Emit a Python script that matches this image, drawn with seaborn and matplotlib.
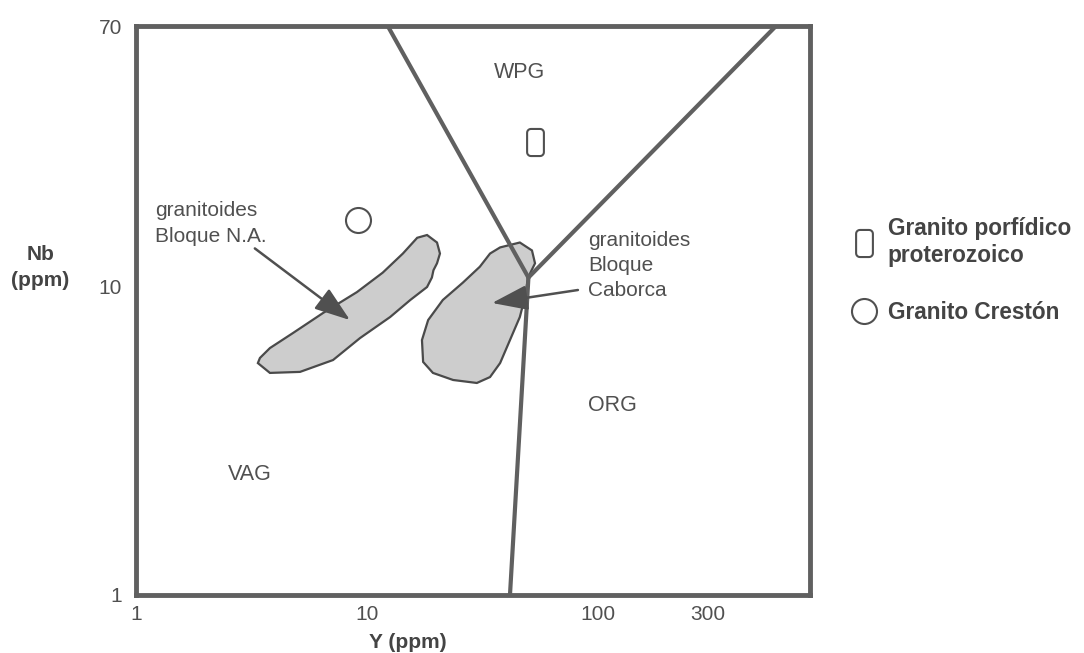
import numpy as np
import matplotlib
matplotlib.use("Agg")
import matplotlib.pyplot as plt
from matplotlib.path import Path
from matplotlib.lines import Line2D
import seaborn as sns

sns.set_style("white")
plt.rcParams["font.family"] = ["Liberation Sans", "DejaVu Sans"]

# ---- data (Y ppm, Nb ppm) ----
x_ticks = [1, 10, 100, 300]
x_tick_labels = ["1", "10", "100", "300"]
y_ticks = [1, 10, 70]
y_tick_labels = ["1", "10", "70"]

# discrimination boundaries (Pearce et al.)
bound_wpg_left_y = [50, 12.3]
bound_wpg_left_nb = [10.7, 70]
bound_wpg_right_y = [50, 590]
bound_wpg_right_nb = [10.7, 70]
bound_org_y = [50, 41.6]
bound_org_nb = [10.7, 1]

# field: granitoides Bloque N.A.
na_y = [3.37, 3.80, 5.13, 7.13, 9.33, 12.6, 15.4, 18.2, 19.1, 19.4, 20.1, 20.7,
        20.1, 18.2, 16.5, 14.3, 11.7, 9.05, 6.45, 4.78, 3.80, 3.44]
na_nb = [5.65, 5.25, 5.29, 5.78, 6.81, 7.97, 9.05, 9.97, 10.7, 11.3, 11.9, 12.8,
         13.9, 14.7, 14.4, 12.8, 11.1, 9.60, 8.21, 7.07, 6.32, 5.87]

# field: granitoides Bloque Caborca
cab_y = [37.7, 45.9, 51.8, 53.4, 49.8, 48.3, 45.9, 41.6, 37.7, 34.1, 29.9, 23.6,
         19.3, 17.5, 17.3, 18.4, 21.3, 26.0, 30.8, 34.1]
cab_nb = [13.4, 13.9, 13.1, 11.9, 10.7, 9.25, 7.97, 6.71, 5.65, 5.09, 4.87, 4.98,
          5.25, 5.70, 6.71, 7.79, 9.05, 10.3, 11.6, 12.8]

# samples
porf_y, porf_nb = [53.4], [29.4]
crest_y, crest_nb = [9.14], [16.4]

# arrows (start -> tip)
arrow_na = ((3.27, 13.3), (8.44, 7.79))
arrow_cab = ((81.9, 9.75), (34.8, 8.85))

GRAY = "#606060"
TXT = "#505050"

def rounded_rect(w=0.62, h=1.0, r=0.14, n=6):
    verts = []
    corners = [(w/2 - r, h/2 - r, 0), (-w/2 + r, h/2 - r, 90),
               (-w/2 + r, -h/2 + r, 180), (w/2 - r, -h/2 + r, 270)]
    for cx, cy, a0 in corners:
        for t in np.linspace(a0, a0 + 90, n):
            verts.append((cx + r*np.cos(np.radians(t)), cy + r*np.sin(np.radians(t))))
    verts.append(verts[0])
    codes = [Path.MOVETO] + [Path.LINETO]*(len(verts) - 2) + [Path.CLOSEPOLY]
    return Path(verts, codes)

rect_marker = rounded_rect()

fig = plt.figure(figsize=(10.84, 6.53), dpi=100)
ax = fig.add_axes([136/1084, 58/653, (810-136)/1084, (595-26)/653])
ax.set_xscale("log")
ax.set_yscale("log")
ax.set_xlim(1, 828)
ax.set_ylim(1, 70)

# fields
ax.fill(na_y, na_nb, facecolor="#cdcdcd", edgecolor="#4a4a4a", lw=1.6, zorder=2)
ax.fill(cab_y, cab_nb, facecolor="#cdcdcd", edgecolor="#4a4a4a", lw=1.6, zorder=2)

# boundaries
for bx, by in [(bound_wpg_left_y, bound_wpg_left_nb),
               (bound_wpg_right_y, bound_wpg_right_nb),
               (bound_org_y, bound_org_nb)]:
    sns.lineplot(x=bx, y=by, ax=ax, sort=False, estimator=None, color=GRAY,
                 lw=3.0, zorder=3, solid_capstyle="round")

# samples
sns.scatterplot(x=porf_y, y=porf_nb, ax=ax, marker=rect_marker, s=19.5**2,
                facecolor="white", edgecolor="#505050", linewidth=1.5, zorder=4)
sns.scatterplot(x=crest_y, y=crest_nb, ax=ax, marker="o", s=18**2,
                facecolor="white", edgecolor="#505050", linewidth=1.5, zorder=4)

# arrows
for (s, t) in [arrow_na, arrow_cab]:
    ax.annotate("", xy=t, xytext=s,
                arrowprops=dict(arrowstyle="-|>,head_length=1.0,head_width=0.35",
                                color="#505050", lw=1.8, mutation_scale=22,
                                shrinkA=0, shrinkB=0), zorder=5)

# texts
fs = 15
ax.text(1.21, 16.0, "granitoides\nBloque N.A.", fontsize=fs, color=TXT,
        ha="left", va="center", linespacing=1.45)
ax.text(90.5, 11.7, "granitoides\nBloque\nCaborca", fontsize=fs, color=TXT,
        ha="left", va="center", linespacing=1.4)
ax.text(45.9, 49.6, "WPG", fontsize=15.5, color=TXT, ha="center", va="center")
ax.text(115, 4.13, "ORG", fontsize=15.5, color=TXT, ha="center", va="center")
ax.text(3.12, 2.45, "VAG", fontsize=15.5, color=TXT, ha="center", va="center")

# axes styling
for sp in ax.spines.values():
    sp.set_color(GRAY)
    sp.set_linewidth(3.5)
ax.set_xticks(x_ticks)
ax.set_xticklabels(x_tick_labels)
ax.set_yticks(y_ticks)
ax.set_yticklabels(y_tick_labels)
ax.minorticks_off()
ax.tick_params(axis="both", direction="in", length=12, width=1, color=GRAY,
               labelsize=15, labelcolor=TXT, pad=10)
ax.tick_params(axis="x", pad=7)
ax.set_xlabel("Y (ppm)", fontsize=15, fontweight="bold", color="#444444")
ax.xaxis.set_label_coords((408 - 136) / 674, -0.066)
ax.set_ylabel("Nb\n(ppm)", fontsize=15, fontweight="bold", color="#444444",
              rotation=0, ha="center", va="center", linespacing=1.45)
ax.yaxis.set_label_coords(-0.142, 0.575)

# legend
handles = [
    Line2D([], [], linestyle="none", marker=rect_marker, markersize=19.5,
           markerfacecolor="white", markeredgecolor="#505050", markeredgewidth=1.5),
    Line2D([], [], linestyle="none", marker="o", markersize=18,
           markerfacecolor="white", markeredgecolor="#505050", markeredgewidth=1.5),
]
labels = ["Granito porfídico\nproterozoico", "Granito Crestón"]
leg = fig.legend(handles, labels, loc="upper left", bbox_to_anchor=(830/1084, 1 - 197/653),
                 frameon=False, handlelength=1.2, handletextpad=0.45, labelspacing=1.5,
                 prop={"size": 16.3, "weight": "bold"})
for t in leg.get_texts():
    t.set_color("#444444")
    t.set_linespacing(1.2)

fig.savefig("out.png", dpi=100)
